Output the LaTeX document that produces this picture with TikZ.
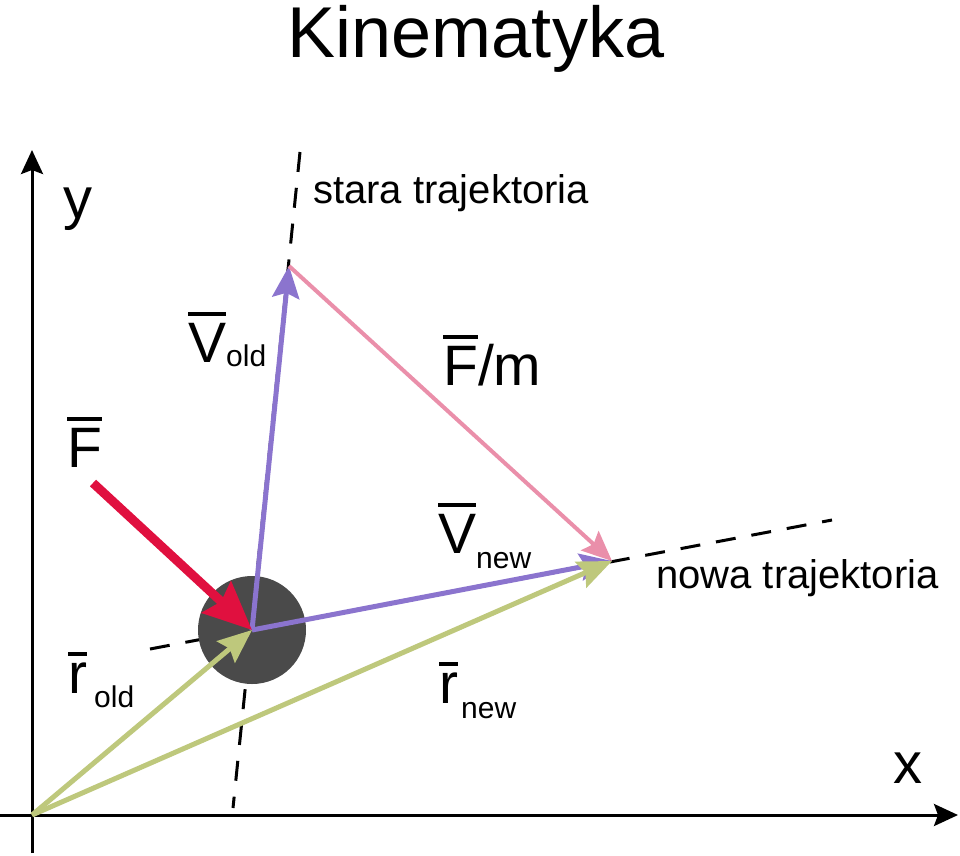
\documentclass[tikz,border=0pt]{standalone}
\usepackage{fontspec}
\setmainfont{Liberation Sans}
\usetikzlibrary{arrows.meta}
\definecolor{vpurple}{RGB}{139,116,206}
\definecolor{rgreen}{RGB}{190,200,124}
\definecolor{fred}{RGB}{224,16,63}
\definecolor{fpink}{RGB}{234,143,170}
\definecolor{ballgray}{RGB}{74,74,74}
\newcommand\barv[1]{\setbox0\hbox{#1}\rlap{\raisebox{\dimexpr\ht0+0.12em\relax}{\rule{\wd0}{0.07em}}}\box0}
\newcommand\lblbig{\fontsize{57}{60}\selectfont}
\newcommand\lblsub{\fontsize{30}{32}\selectfont}
\tikzset{
  axis/.style={line width=3pt, -{Stealth[length=24pt,width=22pt,inset=4pt]}},
  traj/.style={line width=3pt, dash pattern=on 20pt off 16pt},
  vecv/.style={vpurple, line width=5pt, -{Stealth[length=32pt,width=27pt,inset=5pt]}},
  vecr/.style={rgreen, line width=5pt, -{Stealth[length=34pt,width=28pt,inset=5pt]}},
  vecf/.style={fpink, line width=4pt, -{Stealth[length=30pt,width=26pt,inset=5pt]}},
  vecF/.style={fred, line width=9pt, -{Stealth[length=48pt,width=42pt,inset=6pt]}},
  lbl/.style={inner sep=0pt, anchor=base west},
}
\begin{document}
\begin{tikzpicture}[x=1pt,y=-1pt]
\useasboundingbox (0,0) rectangle (960,855);
% named points
\coordinate (O) at (32,815);
\coordinate (P) at (252,630);
\coordinate (A) at (289,266);
\coordinate (B) at (612,561);
\coordinate (Fs) at (93,483);
\coordinate (S1) at (300,152);
\coordinate (S2) at (233,808);
\coordinate (N1) at (150,649);
\coordinate (N2) at (832,520);
\coordinate (Ybot) at (32,853);
\coordinate (Ytop) at (32,150);
\coordinate (Xl) at (0,815);
\coordinate (Xr) at (958,815);
% title
\node[inner sep=0pt, anchor=base, font=\fontsize{72}{80}\selectfont] (title) at (476,57) {Kinematyka};
% axes
\draw[axis] (Ybot) -- (Ytop);
\draw[axis] (Xl) -- (Xr);
\node[inner sep=0pt, anchor=base, font=\fontsize{58}{60}\selectfont] (ylab) at (78,218) {y};
\node[inner sep=0pt, anchor=base, font=\fontsize{58}{60}\selectfont] (xlab) at (908,783) {x};
% trajectories
\draw[traj] (S1) -- (S2);
\draw[traj] (N1) -- (N2);
\node[lbl, font=\fontsize{40}{44}\selectfont] (stara) at (313,203) {stara trajektoria};
\node[lbl, font=\fontsize{40}{44}\selectfont] (nowa) at (656,588) {nowa trajektoria};
% ball
\fill[ballgray] (P) circle[radius=54pt];
% vectors
\draw[vecv] (P) -- (A);
\draw[vecv] (P) -- (B);
\draw[vecr] (O) -- (B);
\draw[vecr] (O) -- (P);
\draw[vecf] (A) -- (B);
\draw[vecF] (Fs) -- (P);
% labels
\node[lbl] (lvold) at (188,362) {\lblbig\barv{V}\lblsub\raisebox{-4pt}{old}};
\node[lbl] (lF) at (67,467) {\lblbig\barv{F}};
\node[lbl] (lFm) at (443,385) {\lblbig\barv{F}/m};
\node[lbl] (lvnew) at (438,553) {\lblbig\barv{V}\lblsub\raisebox{-15pt}{new}};
\node[lbl] (lrold) at (68,693) {\lblbig\barv{r}\hspace{7pt}\lblsub\raisebox{-14pt}{old}};
\node[lbl] (lrnew) at (439,703) {\lblbig\barv{r}\hspace{3pt}\lblsub\raisebox{-15pt}{new}};
\end{tikzpicture}
\end{document}
